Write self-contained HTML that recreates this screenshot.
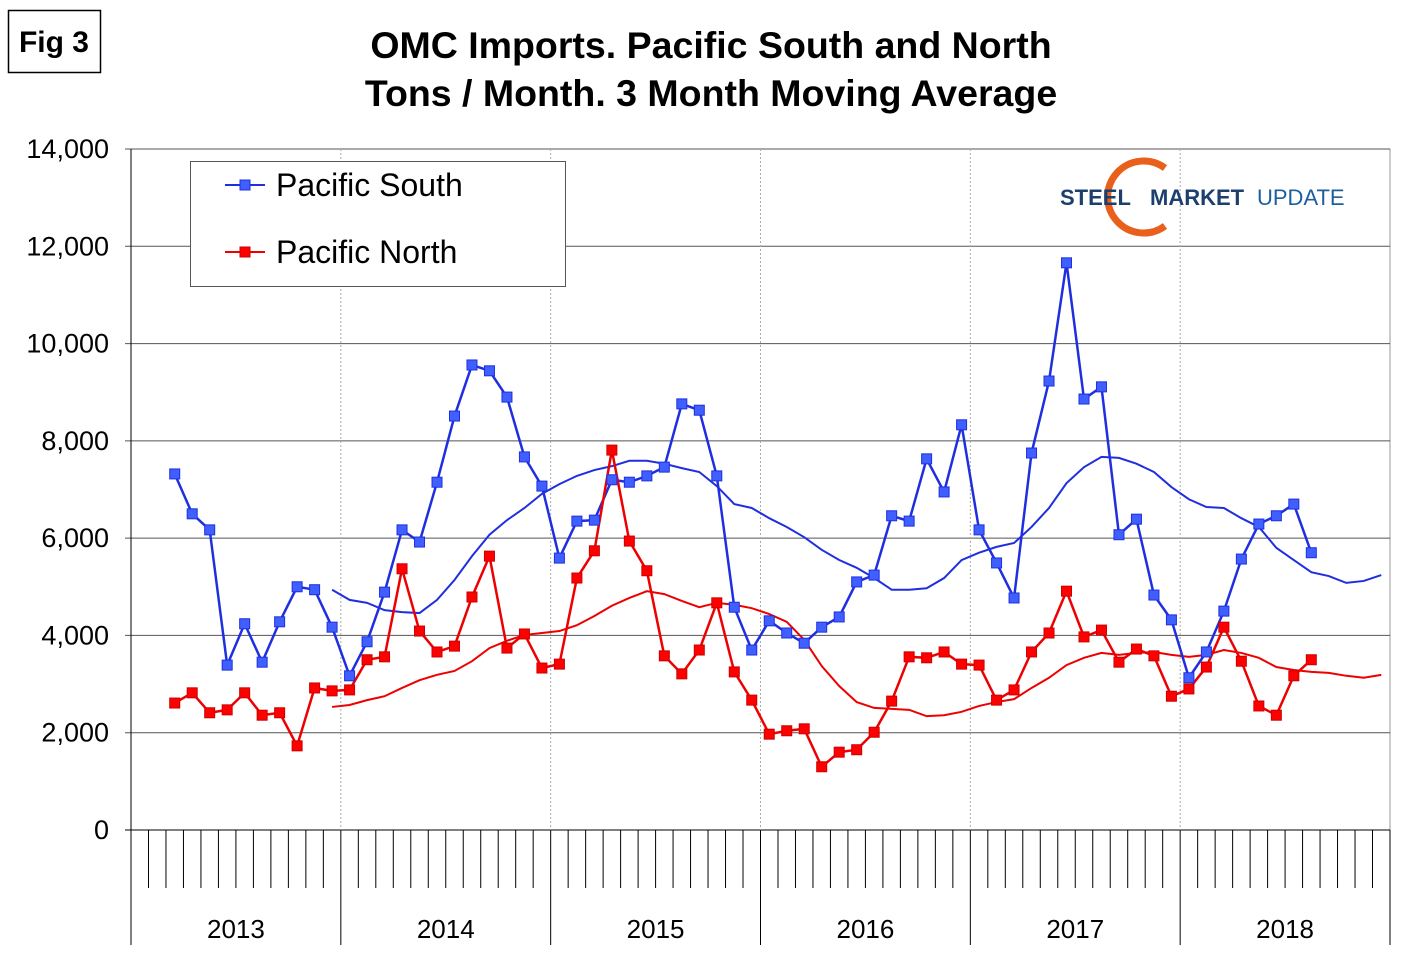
<!DOCTYPE html>
<html><head><meta charset="utf-8"><style>
body{margin:0;background:#fff;font-family:"Liberation Sans",Arial,sans-serif}
svg{display:block}
</style></head><body>
<svg width="1422" height="973" viewBox="0 0 1422 973" xmlns="http://www.w3.org/2000/svg">
<rect x="0" y="0" width="1422" height="973" fill="#fff"/>
<g>
<rect x="8.5" y="10.5" width="92" height="62" fill="none" stroke="#000" stroke-width="1.5"/>
<text x="54" y="52" font-size="30" font-weight="bold" text-anchor="middle" font-family="Liberation Sans, sans-serif">Fig 3</text>
</g>
<text x="711" y="58" font-size="37.5" font-weight="bold" text-anchor="middle">OMC Imports. Pacific South and North</text>
<text x="711" y="106" font-size="37.5" font-weight="bold" text-anchor="middle">Tons / Month. 3 Month Moving Average</text>
<g id="grid"></g>
<g id="axes"></g>
<g id="series"></g>
<g>
<rect x="190.5" y="161.5" width="375" height="125" fill="#fff" stroke="#555" stroke-width="1"/>
<line x1="225" y1="185" x2="265" y2="185" stroke="#1f2fe0" stroke-width="2"/>
<rect x="240" y="180" width="10" height="10" fill="#3f5fff" stroke="#1f2fe0"/>
<text x="276" y="196" font-size="32">Pacific South</text>
<line x1="225" y1="252" x2="265" y2="252" stroke="#e00" stroke-width="2"/>
<rect x="240" y="247" width="10" height="10" fill="#f00" stroke="#c00"/>
<text x="276" y="263" font-size="32">Pacific North</text>
</g>
<g>
<path d="M1165 168 A36 36 0 1 0 1165 226" fill="none" stroke="#e8601c" stroke-width="7"/>
<text x="1060" y="205" font-size="22" font-weight="bold" fill="#1d3f6e">STEEL</text>
<text x="1150" y="205" font-size="22" font-weight="bold" fill="#1d3f6e">MARKET</text>
<text x="1257" y="205" font-size="22" fill="#1d5f9e">UPDATE</text>
</g>
</svg>
<script>
const months = Array.from({length:72},(_,i)=>i);
const yTicks = [0,2000,4000,6000,8000,10000,12000,14000];
const years = ['2013','2014','2015','2016','2017','2018'];
const southStart = 2;
const southValues = [7320,6500,6170,3390,4240,3450,4280,5000,4940,4170,3170,3870,4890,6170,5920,7150,8510,9560,9440,8900,7670,7070,5590,6350,6370,7200,7150,7280,7460,8760,8630,7280,4580,3700,4300,4050,3840,4170,4380,5100,5240,6460,6350,7630,6950,8330,6170,5490,4770,7750,9230,11660,8860,9110,6070,6390,4830,4320,3130,3660,4500,5570,6290,6460,6700,5700];
const northValues = [2610,2820,2410,2470,2820,2360,2410,1730,2920,2860,2880,3500,3560,5370,4090,3660,3780,4790,5630,3740,4030,3330,3410,5180,5740,7810,5940,5330,3580,3210,3700,4670,3250,2670,1970,2040,2080,1300,1600,1650,2010,2650,3560,3540,3660,3410,3390,2670,2880,3660,4050,4910,3970,4110,3450,3720,3580,2750,2900,3350,4170,3470,2550,2360,3170,3500];
const trendStart = 11;
const southTrend = [4940,4730,4670,4520,4480,4460,4730,5140,5630,6070,6370,6620,6910,7110,7280,7400,7480,7590,7590,7530,7440,7360,7070,6700,6620,6410,6230,6020,5760,5550,5390,5180,4940,4940,4970,5180,5550,5700,5820,5900,6230,6620,7130,7460,7670,7650,7530,7360,7050,6800,6640,6620,6410,6230,5800,5550,5300,5220,5080,5120,5240];
const northTrend = [2530,2570,2670,2750,2920,3080,3190,3270,3470,3740,3890,4010,4050,4090,4210,4400,4610,4770,4910,4850,4710,4580,4670,4630,4560,4440,4280,3910,3370,2960,2630,2510,2490,2470,2340,2360,2430,2550,2630,2690,2920,3130,3390,3540,3640,3600,3640,3660,3600,3560,3600,3700,3640,3540,3350,3290,3250,3230,3170,3130,3190];

const NS='http://www.w3.org/2000/svg';
const X0=131, X1=1390, Y0=830, Y1=149, MW=(X1-X0)/72;
const xs=i=>X0+(i+0.5)*MW;
const ys=v=>Y0-(v/14000)*(Y0-Y1);
function mk(tag,attrs,parent){const e=document.createElementNS(NS,tag);for(const k in attrs)e.setAttribute(k,attrs[k]);parent.appendChild(e);return e;}
const grid=document.getElementById('grid'), axes=document.getElementById('axes'), ser=document.getElementById('series');
mk('rect',{x:X0,y:Y1,width:X1-X0,height:Y0-Y1,fill:'none',stroke:'#999','stroke-width':1},grid);
yTicks.forEach(v=>{
  const l=mk('line',{x1:X0-6,x2:X1,y1:ys(v),y2:ys(v),stroke:v===0?'#000':'#555','stroke-width':1},grid);
  
  
  const t=mk('text',{x:X0-22,y:ys(v)+9,'font-size':27,'text-anchor':'end'},axes);
  t.textContent=v.toLocaleString('en-US');
  
  
});
mk('line',{x1:X0,x2:X0,y1:Y1,y2:Y0,stroke:'#000'},axes);
for(let i=0;i<=72;i++){
  const x=X0+i*MW, yr=i%12===0;
  mk('line',{x1:x,x2:x,y1:Y0,y2:yr?945:888,stroke:'#000','stroke-width':1},axes);
  if(yr&&i>0&&i<72) mk('line',{x1:x,x2:x,y1:Y1,y2:Y0,stroke:'#aaa','stroke-dasharray':'2 2'},grid);
}
years.forEach((y,k)=>{
  const t=mk('text',{x:X0+(k+0.5)*12*MW,y:938,'font-size':26,'text-anchor':'middle'},axes);
  t.textContent=y;
  
  
});
function line(vals,start,color,w,name){
  const p=mk('polyline',{points:vals.map((v,j)=>xs(start+j)+','+ys(v)).join(' '),fill:'none',stroke:color,'stroke-width':w},ser);
  
  
}
function marks(vals,start,fill,stroke,name){
  vals.forEach((v,j)=>{
    const r=mk('rect',{x:xs(start+j)-5,y:ys(v)-5,width:10,height:10,fill:fill,stroke:stroke},ser);
    
    
  });
}
line(southTrend,trendStart,'#1f2fe0',2,'south-trend-line');
line(northTrend,trendStart,'#e00',2,'north-trend-line');
line(southValues,southStart,'#1f2fe0',2.5,'south-line');
line(northValues,southStart,'#e00',2.5,'north-line');
marks(southValues,southStart,'#3f5fff','#1f2fe0','south-point');
marks(northValues,southStart,'#f00','#c00','north-point');
</script>
</body></html>
